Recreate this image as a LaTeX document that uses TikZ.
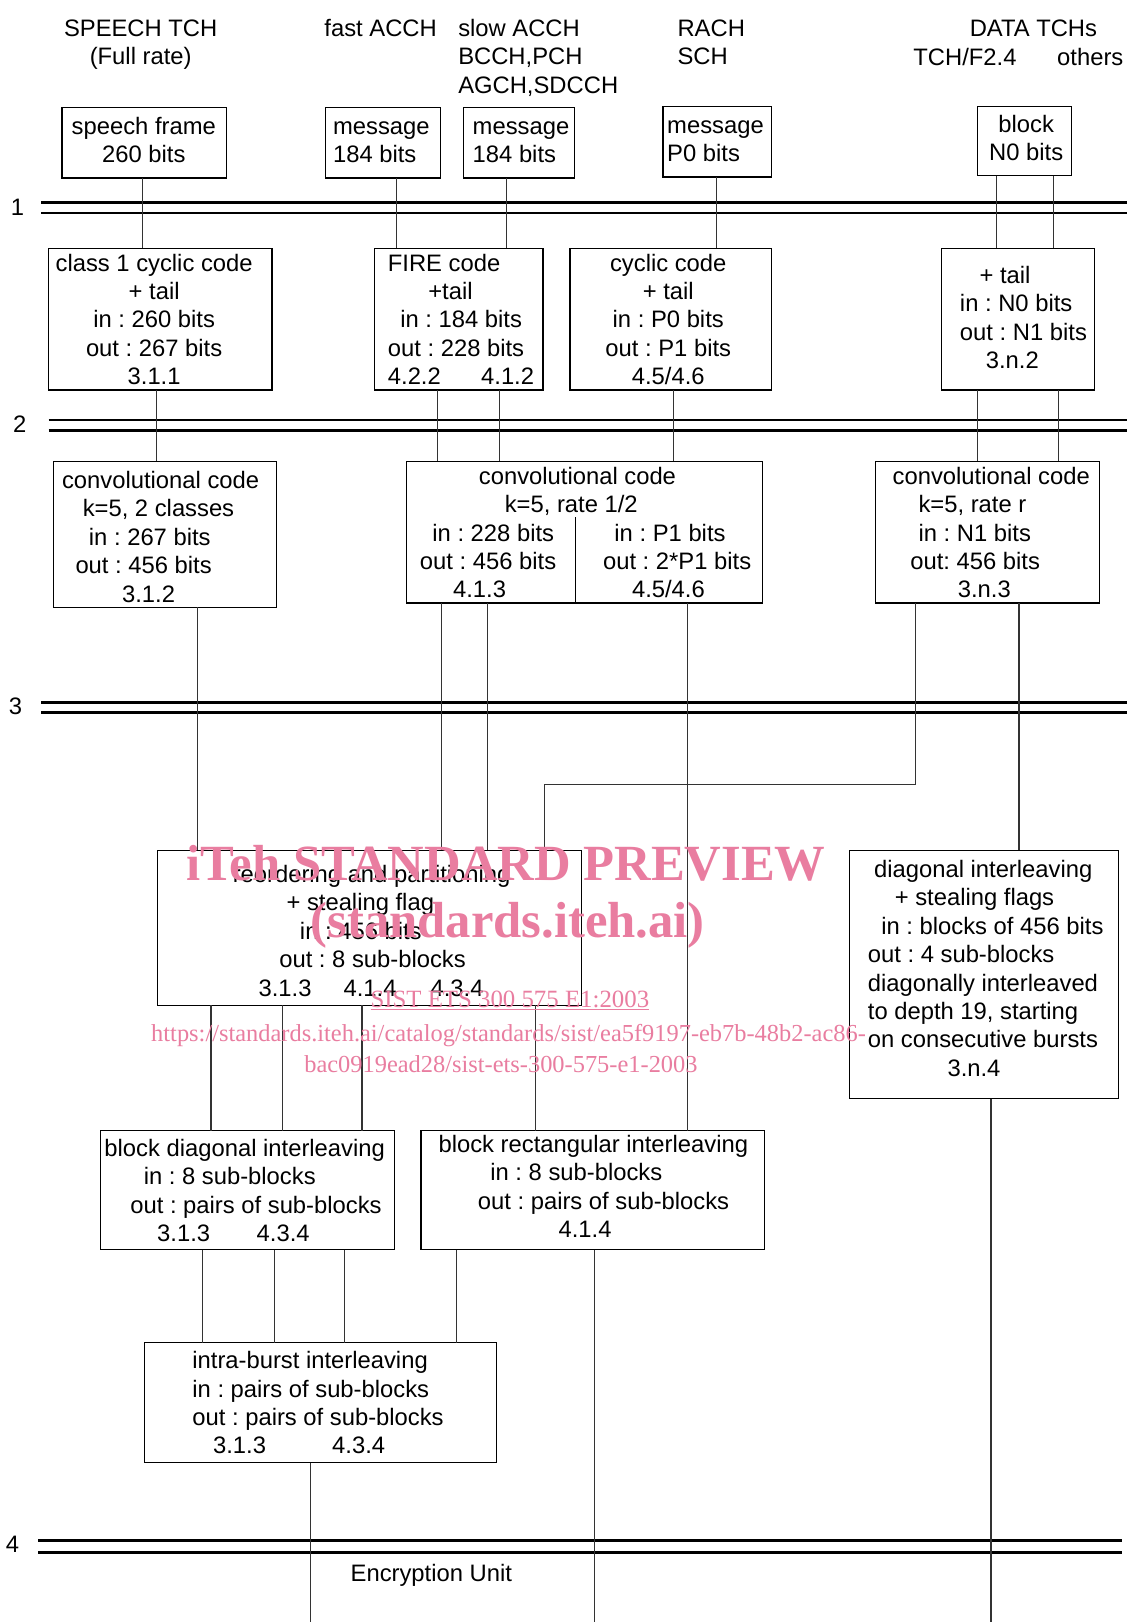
\documentclass[tikz,border=0pt]{standalone}
\usepackage{fontspec}
\setmainfont{Liberation Sans}
\newfontfamily\wmserif{Liberation Serif}
\frenchspacing
\definecolor{wmpink}{RGB}{233,125,160}
\tikzset{
  box/.style={draw=black, line width=1.2pt, rectangle, inner sep=0pt, outer sep=0pt},
  txt/.style={inner sep=0pt, outer sep=0pt, font=\fontsize{23}{27.5}\selectfont},
  conn/.style={draw=black!80, line width=1.1pt},
  sepline/.style={draw=black, line width=2.6pt},
  wmark/.style={inner sep=0pt, text=wmpink, anchor=base west},
}
\newcommand\mkbox[5]{\node[box, minimum width={(#4)-(#2)}, minimum height={(#5)-(#3)}] (#1) at ({((#2)+(#4))/2},{((#3)+(#5))/2}) {};}
\newcommand\ctxt[4]{\node[txt, anchor=base] (#1) at (#2,#3) {\begin{tabular}[t]{@{}c@{}}#4\end{tabular}};}
\newcommand\ltxt[4]{\node[txt, anchor=base west] (#1) at (#2,#3) {\begin{tabular}[t]{@{}l@{}}#4\end{tabular}};}
\newcommand\vlink[3]{\coordinate (vx) at (#1,0); \draw[conn] (#2.south -| vx) -- (#3.north -| vx);}
\newcommand\ind[1]{\hspace*{#1pt}}
\begin{document}
\frenchspacing
\begin{tikzpicture}[x=1pt,y=-1pt]
\fill[white] (0,0) rectangle (1089,1568);
\useasboundingbox (0,0) rectangle (1089,1568);

% separator double lines
\draw[sepline] (40,196) -- (1089,196);
\draw[sepline] (40,206) -- (1089,206);
\draw[sepline] (47,406) -- (1089,406);
\draw[sepline] (47,416) -- (1089,416);
\draw[sepline] (40,679) -- (1089,679);
\draw[sepline] (40,689) -- (1089,689);
\draw[sepline] (37,1489) -- (1085,1489);
\draw[sepline] (37,1501) -- (1085,1501);
\ctxt{l1}{17}{208}{1}
\ctxt{l2}{19}{418}{2}
\ctxt{l3}{15}{691}{3}
\ctxt{l4}{12}{1501}{4}

% headers
\ctxt{h1}{136}{35}{SPEECH TCH\\(Full rate)}
\ctxt{h2}{368}{35}{fast ACCH}
\ltxt{h3}{443}{35}{slow ACCH\\BCCH,PCH\\AGCH,SDCCH}
\ltxt{h4}{655}{35}{RACH\\SCH}
\ctxt{h5}{999}{35}{DATA TCHs}
\ltxt{h6}{883}{63}{TCH/F2.4}
\ltxt{h7}{1022}{63}{others}

% boxes
\mkbox{speech}{60}{104}{219}{172}
\mkbox{fastmsg}{315}{104}{426}{172}
\mkbox{slowmsg}{448}{104}{555}{172}
\mkbox{rachmsg}{641}{103}{746}{171}
\mkbox{block}{945}{103}{1036}{170}
\mkbox{class1}{47}{240}{263}{377}
\mkbox{fire}{362}{240}{525}{377}
\mkbox{cyclic}{551}{240}{746}{377}
\mkbox{tailbox}{910}{240}{1058}{377}
\mkbox{conv1}{52}{446}{267}{587}
\mkbox{conv2}{393}{446}{737}{583}
\mkbox{conv3}{846}{446}{1063}{583}
\mkbox{reorder}{152}{822}{562}{972}
\mkbox{diag}{821}{822}{1081}{1062}
\mkbox{blockdiag}{97}{1093}{381}{1208}
\mkbox{rect}{407}{1093}{739}{1208}
\mkbox{intra}{140}{1298}{480}{1414}
\coordinate (div) at (556,500);
\draw[box] (div) -- (conv2.south -| div);

% box texts
\ctxt{t1}{139}{130}{speech frame\\260 bits}
\ltxt{t2}{322}{130}{message\\184 bits}
\ltxt{t3}{457}{130}{message\\184 bits}
\ltxt{t4}{645}{129}{message\\P0 bits}
\ctxt{t5}{992}{128}{block\\N0 bits}
\ctxt{t6}{149}{262}{class 1 cyclic code\\+ tail\\in : 260 bits\\out : 267 bits\\3.1.1}
\ltxt{t7}{375}{262}{FIRE code\\\ind{39}+tail\\\ind{12}in : 184 bits\\out : 228 bits\\4.2.2\hspace{39pt}4.1.2}
\ctxt{t8}{646}{262}{cyclic code\\+ tail\\in : P0 bits\\out : P1 bits\\4.5/4.6}
\ltxt{t9}{928}{274}{\ind{19}+ tail\\in : N0 bits\\out : N1 bits\\\ind{25}3.n.2}
\ltxt{t10}{60}{472}{convolutional code\\\ind{20}k=5, 2 classes\\\ind{26}in : 267 bits\\\ind{13}out : 456 bits\\\ind{58}3.1.2}
\ltxt{t11}{463}{468}{convolutional code\\\ind{25}k=5, rate 1/2}
\ltxt{t12}{406}{523}{\ind{12}in : 228 bits\\out : 456 bits\\\ind{32}4.1.3}
\ltxt{t13}{583}{523}{\ind{11}in : P1 bits\\out : 2*P1 bits\\\ind{28}4.5/4.6}
\ltxt{t14}{863}{468}{convolutional code\\\ind{25}k=5, rate r\\\ind{25}in : N1 bits\\\ind{17}out: 456 bits\\\ind{63}3.n.3}
\ltxt{t15}{225}{853}{reordering and partitioning\\\ind{52}+ stealing flag\\\ind{65}in : 456 bits\\\ind{45}out : 8 sub-blocks\\\ind{25}3.1.3\hspace{31pt}4.1.4\hspace{33pt}4.3.4}
\ltxt{t16}{839}{848}{\ind{6}diagonal interleaving\\\ind{26}+ stealing flags\\\ind{13}in : blocks of 456 bits\\out : 4 sub-blocks\\diagonally interleaved\\to depth 19, starting\\on consecutive bursts\\\ind{77}3.n.4}
\ltxt{t17}{101}{1118}{block diagonal interleaving\\\ind{38}in : 8 sub-blocks\\\ind{25}out : pairs of sub-blocks\\\ind{51}3.1.3\hspace{45pt}4.3.4}
\ltxt{t18}{424}{1114}{block rectangular interleaving\\\ind{50}in : 8 sub-blocks\\\ind{38}out : pairs of sub-blocks\\\ind{116}4.1.4}
\ltxt{t19}{186}{1323}{intra-burst interleaving\\in : pairs of sub-blocks\\out : pairs of sub-blocks\\\ind{20}3.1.3\hspace{64pt}4.3.4}
\ltxt{t20}{339}{1529}{Encryption Unit}

% connectors
\vlink{138}{speech}{class1}
\vlink{383}{fastmsg}{fire}
\vlink{490}{slowmsg}{fire}
\vlink{693}{rachmsg}{cyclic}
\vlink{963}{block}{tailbox}
\vlink{1018}{block}{tailbox}
\vlink{151}{class1}{conv1}
\vlink{423}{fire}{conv2}
\vlink{483}{fire}{conv2}
\vlink{651}{cyclic}{conv2}
\vlink{945}{tailbox}{conv3}
\vlink{1023}{tailbox}{conv3}
\vlink{191}{conv1}{reorder}
\vlink{427}{conv2}{reorder}
\vlink{471}{conv2}{reorder}
\vlink{665}{conv2}{rect}
\coordinate (bendA) at (885,758);
\coordinate (bendB) at (526,758);
\draw[conn] (conv3.south -| bendA) -- (bendA) -- (bendB) -- (reorder.north -| bendB);
\vlink{985}{conv3}{diag}
\vlink{204}{reorder}{blockdiag}
\vlink{273}{reorder}{blockdiag}
\vlink{350}{reorder}{blockdiag}
\vlink{518}{reorder}{rect}
\vlink{196}{blockdiag}{intra}
\vlink{265}{blockdiag}{intra}
\vlink{333}{blockdiag}{intra}
\vlink{441}{rect}{intra}
\coordinate (endA) at (300,1568);
\coordinate (endB) at (575,1568);
\coordinate (endC) at (958,1568);
\draw[conn] (intra.south -| endA) -- (endA);
\draw[conn] (rect.south -| endB) -- (endB);
\draw[conn] (diag.south -| endC) -- (endC);

% watermark
\node[wmark, font=\wmserif\bfseries\fontsize{49}{55}\selectfont] (w1) at (180,851) {iTeh STANDARD PREVIEW};
\node[wmark, font=\wmserif\bfseries\fontsize{49}{55}\selectfont] (w2) at (300,906) {(standards.iteh.ai)};
\node[wmark, font=\wmserif\fontsize{24}{28}\selectfont] (w3) at (358,974) {\underline{SIST ETS 300 575 E1:2003}};
\node[wmark, font=\wmserif\fontsize{23.6}{28}\selectfont] (w4) at (146,1007) {https://standards.iteh.ai/catalog/standards/sist/ea5f9197-eb7b-48b2-ac86-};
\node[wmark, font=\wmserif\fontsize{23.6}{28}\selectfont] (w5) at (294,1037) {bac0919ead28/sist-ets-300-575-e1-2003};
\end{tikzpicture}
\end{document}
